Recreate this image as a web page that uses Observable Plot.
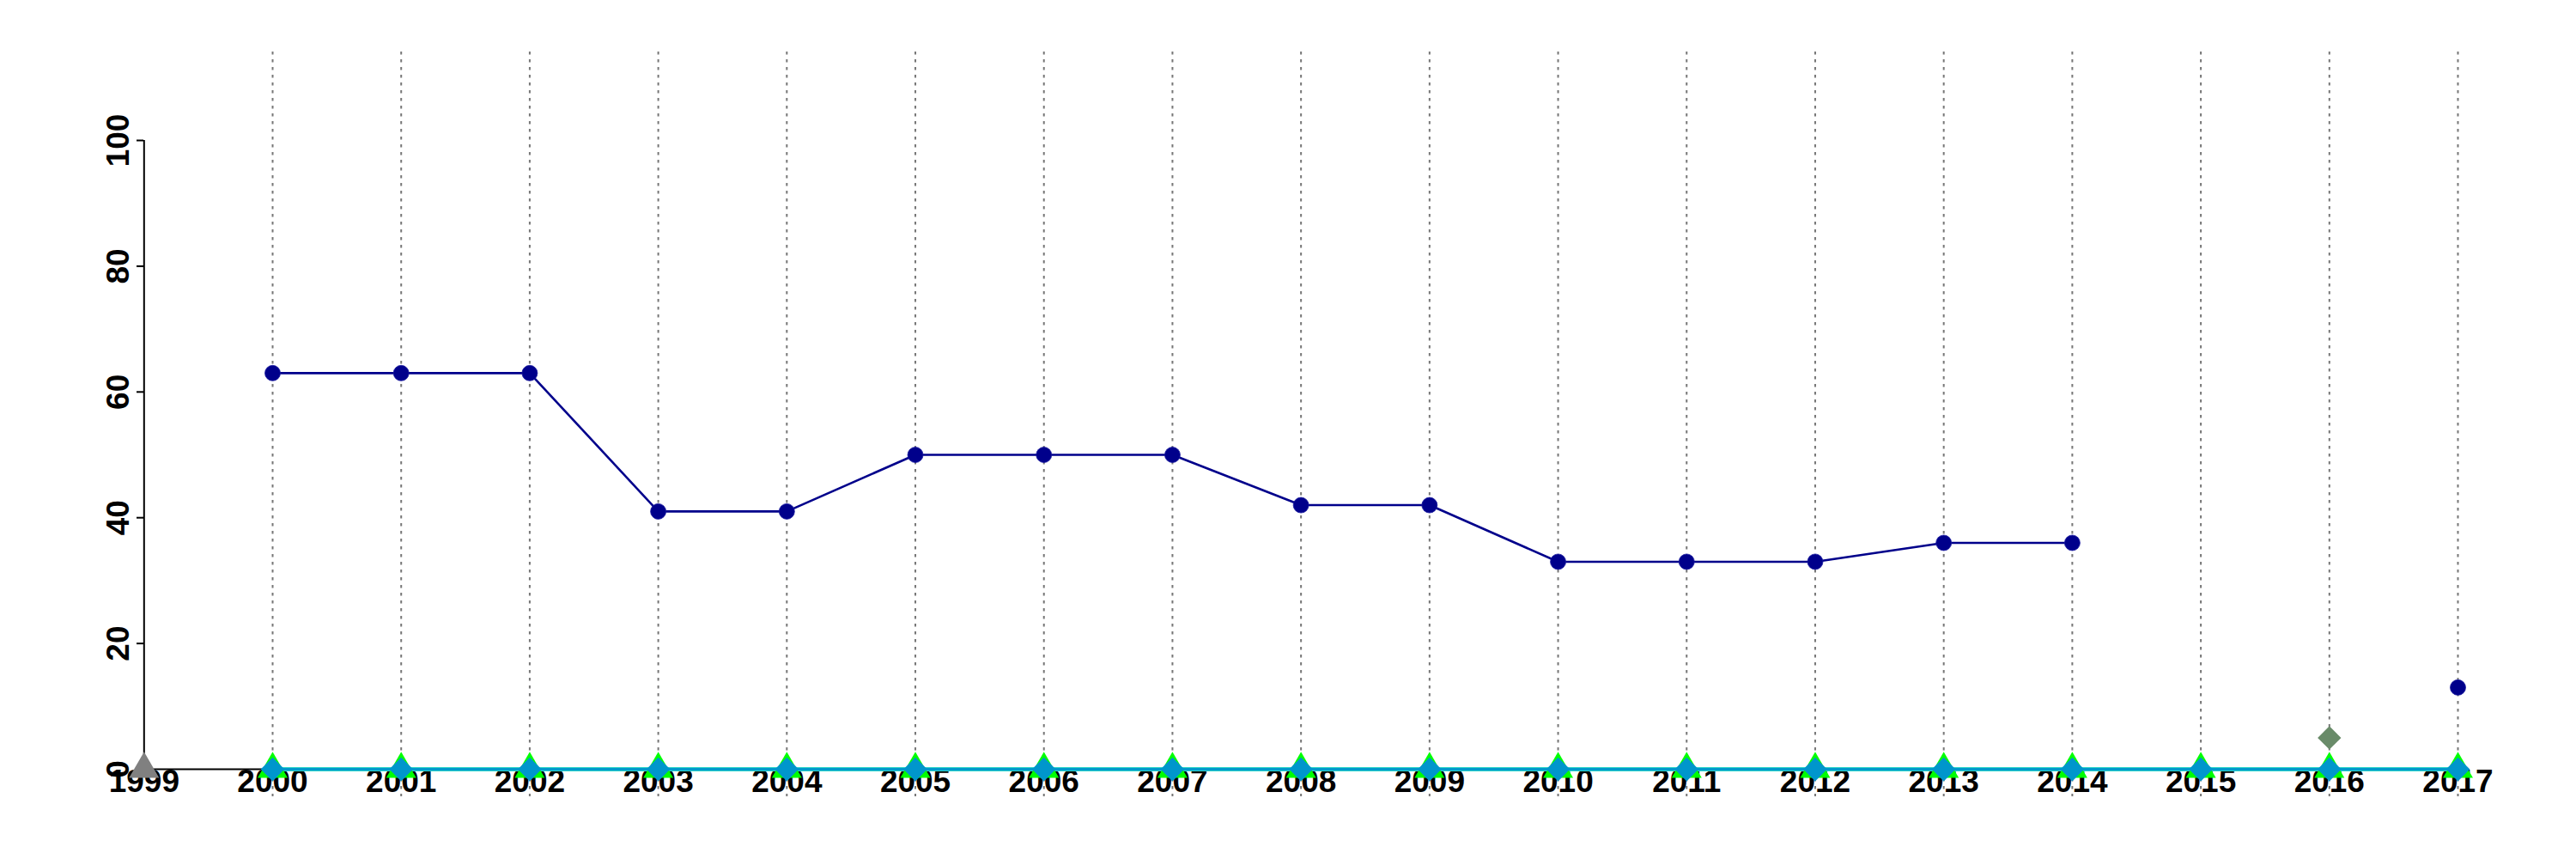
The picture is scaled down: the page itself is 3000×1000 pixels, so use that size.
<!DOCTYPE html>
<html>
<head>
<meta charset="utf-8">
<script src="https://cdn.jsdelivr.net/npm/d3@7"></script>
<script src="https://cdn.jsdelivr.net/npm/@observablehq/plot@0.6"></script>
<style>
  html, body { margin: 0; padding: 0; background: #fff; }
  #chart svg { display: block; }
</style>
</head>
<body>
<div id="chart"></div>
<script>
const years = [1999, 2000, 2001, 2002, 2003, 2004, 2005, 2006, 2007, 2008, 2009, 2010, 2011, 2012, 2013, 2014, 2015, 2016, 2017];
const navySeries = [null, 63, 63, 63, 41, 41, 50, 50, 50, 42, 42, 33, 33, 33, 36, 36, null, null, 13];
const blueSeries = [null, 0, 0, 0, 0, 0, 0, 0, 0, 0, 0, 0, 0, 0, 0, 0, 0, 0, 0];
const greenSeries = [null, 0, 0, 0, 0, 0, 0, 0, 0, 0, 0, 0, 0, 0, 0, 0, 0, 0, 0];
const graySeries = [0, null, null, null, null, null, null, null, null, null, null, null, null, null, null, null, null, null, null];
const sageSeries = [null, null, null, null, null, null, null, null, null, null, null, null, null, null, null, null, null, 5, null];
const yTicks = [0, 20, 40, 60, 80, 100];
const gridYears = years.slice(1);

const rows = (vals) => years.map((yr, i) => ({year: yr, value: vals[i] == null ? NaN : vals[i]}));
const navy = rows(navySeries);
const blue = rows(blueSeries);
const green = rows(greenSeries);
const gray = rows(graySeries).filter(d => !isNaN(d.value));
const sage = rows(sageSeries).filter(d => !isNaN(d.value));
const navyPts = navy.filter(d => !isNaN(d.value));
const bluePts = blue.filter(d => !isNaN(d.value));
const greenPts = green.filter(d => !isNaN(d.value));

const chart = Plot.plot({
  width: 3000,
  height: 1000,
  marginLeft: 167,
  marginRight: 138,
  marginTop: 163,
  marginBottom: 105,
  style: {fontFamily: "'Liberation Sans', Arial, sans-serif", fontWeight: "bold", fontSize: "37px", color: "#000", background: "#fff"},
  x: {domain: [1999, 2017], range: [167.3, 2862], label: null},
  y: {domain: [0, 100], range: [895, 163], label: null},
  marks: [
    Plot.ruleX(gridYears, {x: d => d, stroke: "#777", strokeWidth: 2, strokeDasharray: "3.5,5.5", insetTop: -103, insetBottom: -32}),
    Plot.axisX(years, {anchor: "bottom", label: null, tickSize: 0, tickPadding: 0, tickFormat: d => String(d), fontSize: 37, fontWeight: "bold", fill: "#000"}),
    Plot.axisY(yTicks, {anchor: "left", label: null, tickSize: 8, tickPadding: 10, tickRotate: -90, textAnchor: "middle", lineAnchor: "bottom", fontSize: 37, fontWeight: "bold", strokeWidth: 2, stroke: "#000", fill: "#000"}),
    Plot.ruleX([1999], {x: d => d, y1: 0, y2: 100, stroke: "#000", strokeWidth: 2}),
    Plot.ruleY([0], {y: d => d, x1: 1999, x2: 2017, stroke: "#000", strokeWidth: 2}),
    Plot.line(navy, {x: "year", y: "value", stroke: "#00008B", strokeWidth: 2.6}),
    Plot.dot(navyPts, {x: "year", y: "value", r: 9, fill: "#00008B", stroke: "#1a1aa0", strokeWidth: 0.8}),
    Plot.line(green, {x: "year", y: "value", stroke: "#33d6c8", strokeWidth: 5}),
    Plot.line(blue, {x: "year", y: "value", stroke: "#0099cc", strokeWidth: 3}),
    Plot.dot(greenPts, {x: "year", y: "value", symbol: "triangle", r: 13, fill: "#00ff00"}),
    Plot.dot(bluePts, {x: "year", y: "value", symbol: "diamond2", r: 12.5, fill: "#0096cc"}),
    Plot.dot(gray, {x: "year", y: "value", symbol: "triangle", r: 13, fill: "#808080"}),
    Plot.dot(sage, {x: "year", y: "value", symbol: "diamond2", r: 12.3, fill: "#698b69"})
  ]
});
document.getElementById("chart").appendChild(chart);
</script>
</body>
</html>
